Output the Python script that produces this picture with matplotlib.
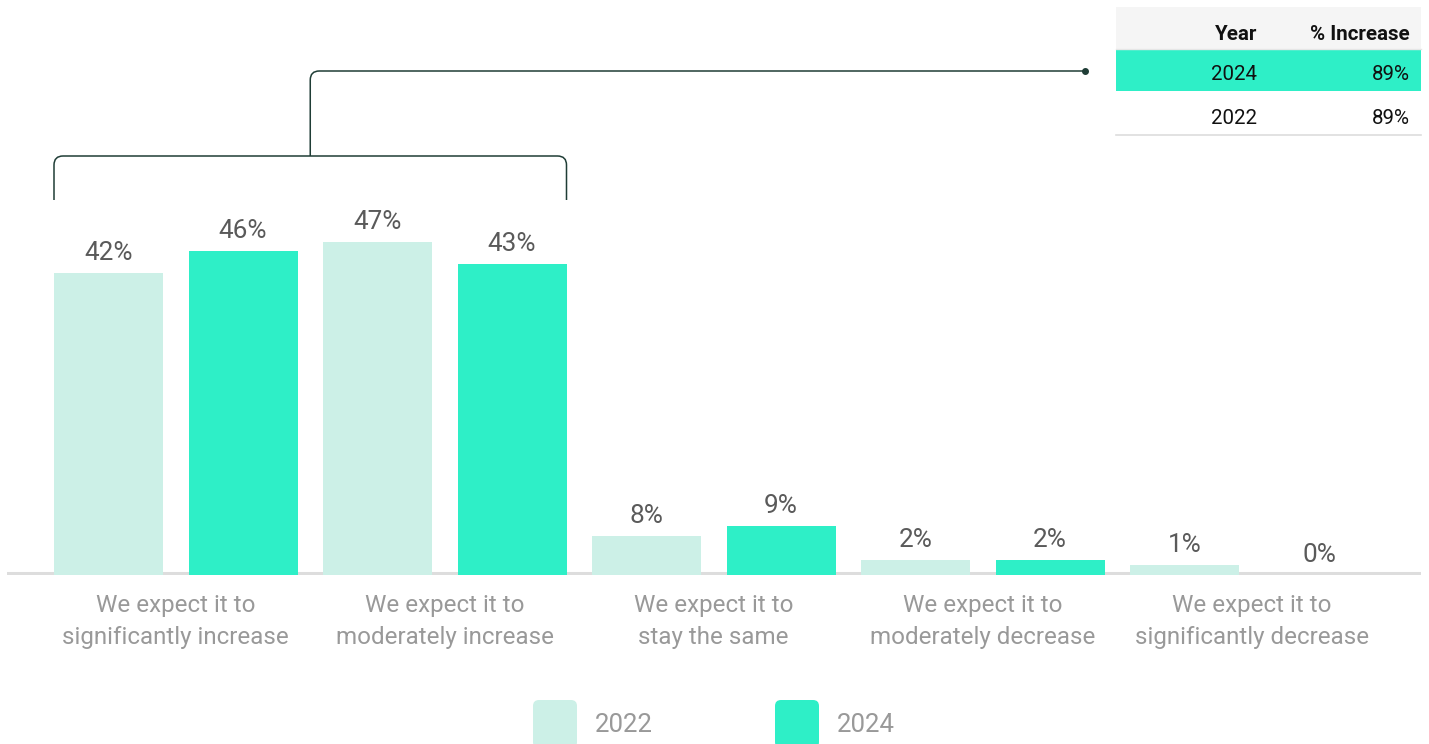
import matplotlib
matplotlib.use("Agg")
import matplotlib.pyplot as plt
from matplotlib.path import Path
from matplotlib.patches import PathPatch, Rectangle, FancyBboxPatch
import numpy as np

plt.rcParams['font.family'] = ['Roboto', 'DejaVu Sans']

categories = [
    ("We expect it to", "significantly increase"),
    ("We expect it to", "moderately increase"),
    ("We expect it to", "stay the same"),
    ("We expect it to", "moderately decrease"),
    ("We expect it to", "significantly decrease"),
]
years = ["2022", "2024"]
# bar heights as drawn in the picture
heights_2022 = [42.5, 46.9, 5.5, 2.1, 1.4]
heights_2024 = [45.6, 43.8, 6.9, 2.1, 0.0]
# value labels as printed
labels_2022 = ["42%", "47%", "8%", "2%", "1%"]
labels_2024 = ["46%", "43%", "9%", "2%", "0%"]
table_years = ["2024", "2022"]
table_increase = ["89%", "89%"]

C22 = "#ccf0e7"
C24 = "#2eefc7"
W, H = 1429, 744
fig = plt.figure(figsize=(W / 100, H / 100), dpi=100)

# main axes: baseline at px 575, top at px 200, left 7, right 1421
ax = fig.add_axes([7 / W, 1 - 575 / H, (1421 - 7) / W, (575 - 200) / H])
pitch = 134.5
ax.set_xlim(-(108.5 - 7) / pitch, 9 + (1421 - 1319) / pitch)
ax.set_ylim(0, 375 / 7.1)
ax.axis("off")
ax.axhline(0.25, color="#dddddd", lw=2.2, zorder=1)

bw = 109 / pitch
x22 = np.arange(len(categories)) * 2
x24 = x22 + 1
ax.bar(x22, heights_2022, width=bw, color=C22, zorder=2)
ax.bar(x24, heights_2024, width=bw, color=C24, zorder=2)
for xs, hs, ls in ((x22, heights_2022, labels_2022), (x24, heights_2024, labels_2024)):
    for x, h, lab in zip(xs, hs, ls):
        ax.annotate(lab, (x, h), xytext=(0, 9.6), textcoords="offset points",
                    ha="center", va="baseline", fontsize=18.8, color="#5a5a5a")
for i, (l1, l2) in enumerate(categories):
    xc = x22[i] + 0.5
    ax.annotate(l1, (xc, 0), xytext=(0, -26.6), textcoords="offset points",
                ha="center", va="baseline", fontsize=17.4, color="#999999")
    ax.annotate(l2, (xc, 0), xytext=(0, -49.4), textcoords="offset points",
                ha="center", va="baseline", fontsize=17.4, color="#999999")

# overlay in pixel coords (y down)
ov = fig.add_axes([0, 0, 1, 1])
ov.set_xlim(0, W)
ov.set_ylim(H, 0)
ov.axis("off")
ov.patch.set_alpha(0)


def rounded(points, r):
    verts = [points[0]]
    codes = [Path.MOVETO]
    for i in range(1, len(points) - 1):
        p0, p1, p2 = map(np.array, (points[i - 1], points[i], points[i + 1]))
        d1 = (p1 - p0) / np.linalg.norm(p1 - p0)
        d2 = (p2 - p1) / np.linalg.norm(p2 - p1)
        a = p1 - d1 * r
        b = p1 + d2 * r
        verts += [tuple(a), tuple(p1), tuple(b)]
        codes += [Path.LINETO, Path.CURVE3, Path.CURVE3]
    verts.append(points[-1])
    codes.append(Path.LINETO)
    return Path(verts, codes)


fig.canvas.draw()
xl = ax.transData.transform((x22[0] - bw / 2, 0))[0]
xr = ax.transData.transform((x24[1] + bw / 2, 0))[0]
xm = (xl + xr) / 2
lc = "#1f3d36"
ov.add_patch(PathPatch(rounded([(xl, 200), (xl, 156), (xr, 156), (xr, 200)], 9),
                       fill=False, edgecolor=lc, lw=1.1))
ov.add_patch(PathPatch(rounded([(xm, 156), (xm, 71), (1085, 71)], 9),
                       fill=False, edgecolor=lc, lw=1.1))
ov.plot([1085], [71], marker="o", ms=4, color=lc)

# table
tx0, tx1 = 1116, 1421
ov.add_patch(Rectangle((tx0, 7), tx1 - tx0, 42, color="#f5f5f5", lw=0))
ov.add_patch(Rectangle((tx0, 49), tx1 - tx0, 42, color=C24, lw=0))
ov.plot([tx0, tx1], [49, 49], color="#e6e6e6", lw=1)
ov.plot([tx0, tx1], [135, 135], color="#dddddd", lw=1.2)
ov.text(1257, 34, "Year", ha="right", va="center", fontsize=14.8, fontweight="bold", color="#111111")
ov.text(1410, 34, "% Increase", ha="right", va="center", fontsize=14.8, fontweight="bold", color="#111111")
for yc, yr, inc in zip((75, 119), table_years, table_increase):
    ov.text(1257, yc, yr, ha="right", va="center", fontsize=14.8, color="#111111")
    ov.text(1410, yc, inc, ha="right", va="center", fontsize=14.8, color="#111111")

# legend
for xs, col, lab in ((533, C22, years[0]), (775, C24, years[1])):
    ov.add_patch(FancyBboxPatch((xs + 6, 706), 32, 36, boxstyle="round,pad=6",
                                color=col, lw=0))
    ov.text(xs + 62, 732, lab, ha="left", va="baseline", fontsize=18.5, color="#999999")

fig.savefig("out.png", dpi=100)
